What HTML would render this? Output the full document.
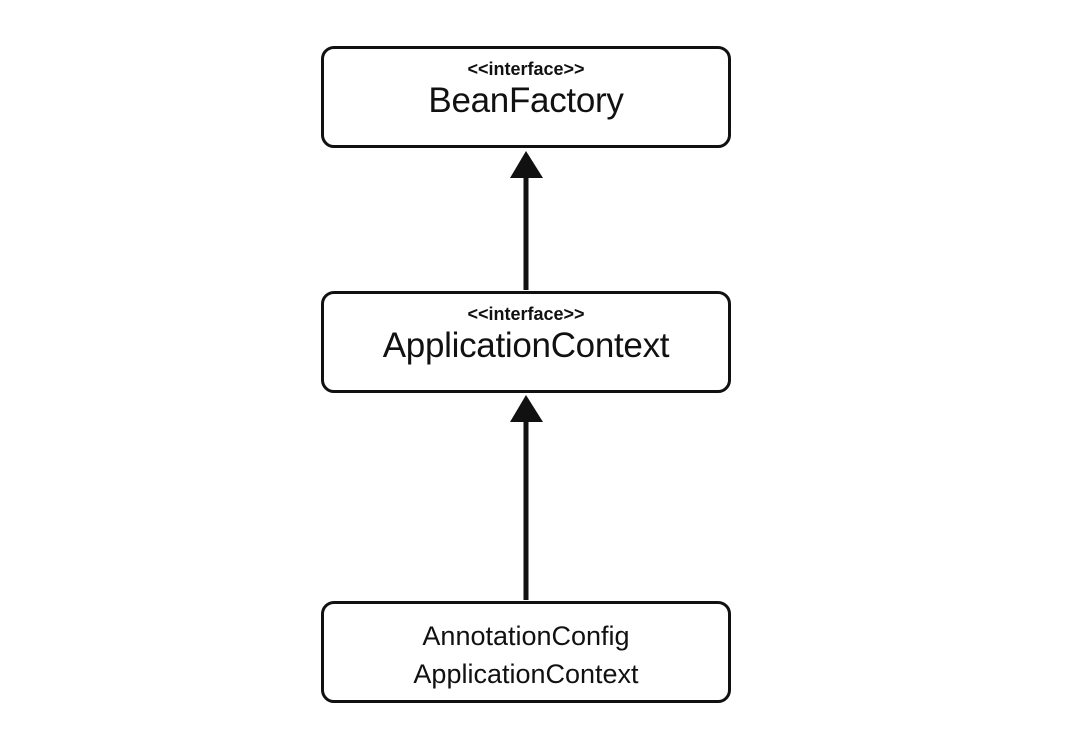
<!DOCTYPE html>
<html><head><meta charset="utf-8"><style>
body{margin:0;background:#fff;width:1092px;height:744px;overflow:hidden;font-family:"Liberation Sans",sans-serif}
.b{position:absolute;left:321px;width:404px;border:3px solid #111;border-radius:13px;background:#fff;text-align:center;color:#111}
.s{position:absolute;left:0;right:0;font-size:18px;font-weight:bold}
.t{position:absolute;left:0;right:0;font-size:35px;letter-spacing:-0.3px}
.m{position:absolute;left:0;right:0;font-size:27px;line-height:38px}
</style></head><body>
<div class="b" style="top:46px;height:96px"><div class="s" style="top:10px">&lt;&lt;interface&gt;&gt;</div><div class="t" style="top:32px">BeanFactory</div></div>
<div class="b" style="top:291px;height:96px"><div class="s" style="top:10px">&lt;&lt;interface&gt;&gt;</div><div class="t" style="top:32px">ApplicationContext</div></div>
<div class="b" style="top:601px;height:96px"><div class="m" style="top:13px">AnnotationConfig<br>ApplicationContext</div></div>
<svg width="1092" height="744" style="position:absolute;left:0;top:0">
<line x1="526" y1="290" x2="526" y2="176" stroke="#111" stroke-width="5"/>
<polygon points="526,151 510,178 543,178" fill="#111"/>
<line x1="526" y1="600" x2="526" y2="420" stroke="#111" stroke-width="5"/>
<polygon points="526,395 510,422 543,422" fill="#111"/>
</svg>
</body></html>
